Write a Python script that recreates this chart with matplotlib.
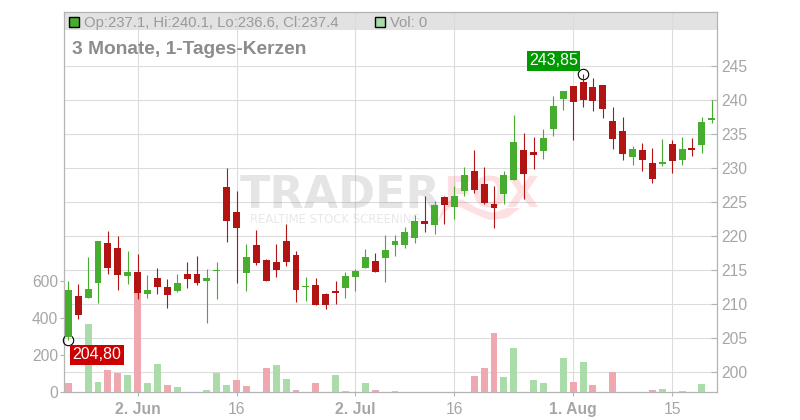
import matplotlib
matplotlib.use('Agg')
import matplotlib.pyplot as plt
from matplotlib.patches import Rectangle, Polygon

plt.rcParams['font.family'] = ['Liberation Sans', 'DejaVu Sans']

# daily candles
opens = [205.24, 211.22, 210.93, 213.13, 219.02, 218.28, 214.16, 214.75, 211.52, 213.87, 212.55,
         211.96, 214.46, 214.46, 213.43, 214.90, 227.25, 223.58, 214.60, 218.72, 216.52, 216.22,
         219.31, 217.25, 212.55, 212.84, 211.52, 211.96, 212.40, 214.02, 215.34, 216.37, 216.81,
         218.72, 218.72, 219.75, 222.25, 221.66, 225.78, 224.31, 226.67, 229.61, 227.69, 224.75,
         226.22, 228.28, 232.69, 232.40, 232.55, 235.78, 240.19, 242.10, 242.69, 241.96, 242.25,
         236.96, 235.49, 231.66, 232.69, 230.78, 230.63, 233.58, 231.22, 232.99, 233.43, 237.10]
highs = [213.48, 212.99, 216.96, 219.31, 220.78, 220.05, 217.84, 217.40, 214.31, 215.34, 213.72,
         214.46, 216.22, 217.11, 215.19, 216.22, 230.04, 226.66, 218.87, 220.93, 216.66, 218.87,
         221.81, 217.84, 214.02, 213.87, 211.67, 213.43, 214.75, 215.19, 218.14, 217.55, 220.19,
         220.19, 221.37, 223.14, 225.93, 225.20, 225.93, 227.40, 230.19, 232.69, 230.19, 227.40,
         229.61, 237.84, 235.20, 234.61, 235.78, 240.63, 241.37, 242.10, 243.85, 243.28, 242.25,
         239.02, 237.55, 233.28, 233.72, 232.99, 234.31, 234.16, 234.60, 234.46, 237.55, 240.10]
lows = [204.80, 207.84, 210.93, 210.19, 214.46, 212.11, 212.99, 210.78, 210.93, 211.52, 209.46,
        211.81, 212.40, 212.84, 207.25, 210.78, 219.16, 213.13, 211.96, 215.78, 213.43, 214.02,
        215.63, 210.34, 210.49, 209.90, 209.31, 210.05, 210.93, 211.96, 215.34, 214.75, 213.28,
        217.11, 218.28, 219.00, 220.64, 220.34, 221.81, 222.55, 225.93, 226.37, 224.75, 221.22,
        224.75, 228.28, 225.49, 229.90, 231.37, 234.75, 238.58, 234.16, 239.00, 238.43, 237.40,
        232.84, 231.22, 230.49, 229.60, 227.84, 230.34, 229.31, 230.49, 231.81, 232.25, 236.60]
closes = [212.10, 208.43, 212.25, 219.31, 215.34, 214.31, 214.75, 211.66, 212.11, 212.55, 211.37,
          213.13, 213.72, 213.13, 213.87, 215.05, 222.25, 221.22, 216.96, 216.08, 213.43, 215.05,
          216.22, 212.11, 212.70, 209.90, 209.90, 211.67, 214.16, 214.90, 216.96, 214.75, 217.99,
          219.31, 220.64, 222.25, 221.81, 224.61, 224.61, 225.93, 229.02, 226.81, 224.90, 224.16,
          229.02, 233.87, 229.17, 231.96, 234.46, 239.16, 241.37, 239.75, 240.05, 239.90, 238.72,
          234.31, 232.10, 232.84, 231.22, 228.43, 230.93, 231.08, 232.84, 232.69, 236.81, 237.40]

volumes = [50, 0, 369, 56, 120, 104, 94, 540, 50, 153, 40, 29, 0, 0, 13, 104, 40, 67, 34, 0, 131, 148,
           72, 13, 0, 50, 0, 94, 7, 0, 50, 13, 0, 7, 0, 0, 0, 0, 0, 0, 0, 88, 131, 320,
           83, 239, 0, 67, 50, 0, 185, 56, 164, 40, 0, 110, 0, 0, 0, 13, 18, 0, 7, 0, 45, 0]
vol_colors = ['r', 'g', 'g', 'g', 'r', 'r', 'g', 'r', 'g', 'g', 'r', 'g', 'g', 'g', 'g', 'g', 'g', 'r', 'r', 'g', 'r', 'g',
              'g', 'r', 'g', 'r', 'g', 'g', 'g', 'g', 'g', 'r', 'g', 'g', 'g', 'g', 'g', 'g', 'g', 'g', 'g', 'r', 'r', 'r',
              'g', 'g', 'g', 'g', 'g', 'g', 'g', 'r', 'g', 'r', 'g', 'r', 'g', 'g', 'g', 'r', 'g', 'g', 'g', 'g', 'g', 'g']

date_ticks = [7, 17, 29, 39, 51, 61]
date_labels = ['2. Jun', '16', '2. Jul', '16', '1. Aug', '15']
date_bold = [True, False, True, False, True, False]
price_ticks = [200, 205, 210, 215, 220, 225, 230, 235, 240, 245]
vol_ticks = [0, 200, 400, 600]

RED = '#b21414'
GREEN = '#46ad2f'
PINK = '#f0a8b0'
LIGHTGREEN = '#a9dca8'
GRID = '#dcdcdc'
SPINE = '#b4b4b4'
LABEL = '#a6a6a6'

fig = plt.figure(figsize=(8, 4.2), dpi=100)
L, R, T, B = 63.5, 716.7, 11.5, 392.3
rect = [L / 800, 1 - B / 420, (R - L) / 800, (B - T) / 420]

# grid and watermark at the back, then volume, then candles
ax = fig.add_axes(rect)
x = list(range(len(opens)))

ax_vol = ax.twinx()
ax_c = ax.twinx()
ax_vol.set_zorder(1)
ax_c.set_zorder(2)

ax.set_xlim(-0.485, 65.5)
ax.set_ylim(197.06, 253.06)
ax.set_yticks(price_ticks)
ax.yaxis.tick_right()
ax.tick_params(axis='y', direction='in', length=4, width=0.8, color=SPINE, labelcolor=LABEL, labelsize=11.25, pad=3.5)
ax.set_xticks(date_ticks)
ax.set_xticklabels(date_labels)
ax.tick_params(axis='x', direction='out', length=3, width=0.8, color=SPINE, labelcolor=LABEL, labelsize=11.3, pad=4)
for lab, bold in zip(ax.get_xticklabels(), date_bold):
    if bold:
        lab.set_fontweight('bold')
ax.grid(True, color=GRID, lw=0.8, zorder=1)
ax.set_axisbelow(True)
for s in ax.spines.values():
    s.set_color(SPINE)
    s.set_linewidth(0.9)

ax.add_patch(Rectangle((0, 1 - 18.5 / (B - T)), 1, 18.5 / (B - T), transform=ax.transAxes,
                       fc='#e2e2e2', ec='none', zorder=0))

# watermark
fig.text(240 / 800, 1 - 208 / 420, 'TRADER', family='DejaVu Sans', weight='bold', fontsize=32,
         color='#808080', alpha=0.2, ha='left', va='baseline', zorder=0.5)
fig.text(443 / 800, 1 - 208 / 420, 'FOX', family='DejaVu Sans', weight='bold', fontsize=30.5,
         color='#f04050', alpha=0.16, ha='left', va='baseline', zorder=0.5)
fig.text(250 / 800, 1 - 223 / 420, 'REALTIME STOCK SCREENING', family='DejaVu Sans', fontsize=8.4,
         color='#808080', alpha=0.18, ha='left', va='baseline', zorder=0.5)
tail = [(435, 228), (443, 215), (452, 205), (460, 207), (477, 215), (490, 220), (507, 218), (520, 208),
        (507, 208), (493, 213), (477, 208), (463, 200), (452, 198), (443, 207)]
fig.patches.append(Polygon([(px / 800, 1 - py / 420) for px, py in tail], closed=True, transform=fig.transFigure,
                           fc='#f04050', alpha=0.16, ec='none', zorder=0.5))

ax_vol.set_ylim(0, (B - T) / 0.185)
ax_vol.set_yticks(vol_ticks)
ax_vol.yaxis.tick_left()
ax_vol.tick_params(axis='y', direction='out', length=3, width=0.8, color=SPINE, labelcolor=LABEL, labelsize=11.25, pad=1)
ax_vol.patch.set_visible(False)
ax_vol.bar(x, volumes, width=0.7, linewidth=0, color=[PINK if c == 'r' else LIGHTGREEN for c in vol_colors])
for s in ax_vol.spines.values():
    s.set_visible(False)

ax_c.set_ylim(ax.get_ylim())
ax_c.set_yticks([])
ax_c.patch.set_visible(False)
for s in ax_c.spines.values():
    s.set_visible(False)

# high / low markers sit behind the candles
ax_c.plot([0, 52], [lows[0], highs[52]], ls='none', marker='o', ms=7.5, mfc='none', mec='black', mew=0.8, zorder=1,
          clip_on=False)

colors = [GREEN if c >= o else RED for o, c in zip(opens, closes)]
ax_c.vlines(x, lows, highs, colors=colors, lw=0.8, zorder=2)
bodies = [max(abs(c - o), 0.15) for o, c in zip(opens, closes)]
ax_c.bar(x, bodies, bottom=[min(o, c) for o, c in zip(opens, closes)], width=0.7, linewidth=0, color=colors, zorder=3)

ax_c.annotate('204,80', (0, lows[0]), xytext=(28.7, -15), textcoords='offset pixels', ha='center', va='center',
              color='white', fontsize=11.5, bbox=dict(boxstyle='square,pad=0.15', fc='#cc0000', ec='none'), zorder=5)
ax_c.annotate('243,85', (52, highs[52]), xytext=(-29.5, 13.5), textcoords='offset pixels', ha='center', va='center',
              color='white', fontsize=11.5, bbox=dict(boxstyle='square,pad=0.15', fc='#009900', ec='none'), zorder=5)

# legend strip
HDR = '#9a9a9a'
fig.patches.append(Rectangle((68.5 / 800, 1 - 27 / 420), 10 / 800, 10 / 420, transform=fig.transFigure,
                             fc=GREEN, ec='black', lw=1, zorder=3))
fig.patches.append(Rectangle((374.5 / 800, 1 - 27 / 420), 10 / 800, 10 / 420, transform=fig.transFigure,
                             fc=LIGHTGREEN, ec='black', lw=1, zorder=3))
fig.text(84 / 800, 1 - 27 / 420, 'Op:237.1, Hi:240.1, Lo:236.6, Cl:237.4', color=HDR, fontsize=10.75, va='baseline', zorder=3)
fig.text(390 / 800, 1 - 27 / 420, 'Vol: 0', color=HDR, fontsize=10.75, va='baseline', zorder=3)
fig.text(72 / 800, 1 - 54 / 420, '3 Monate, 1-Tages-Kerzen', color='#8c8c8c', fontsize=13.75, weight='bold',
         va='baseline', zorder=3)

fig.savefig('out.png', dpi=100)
